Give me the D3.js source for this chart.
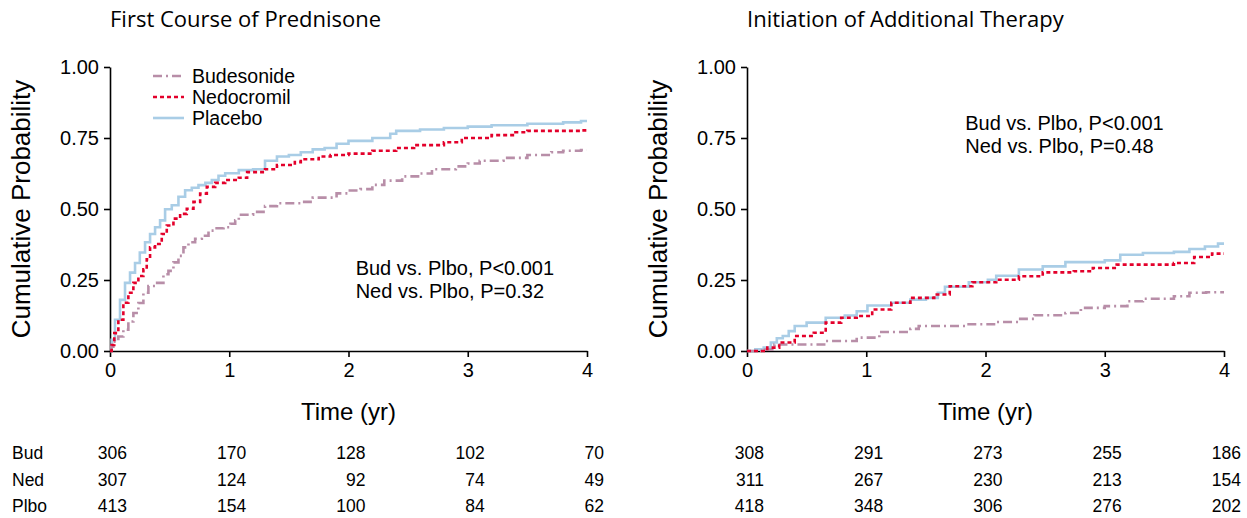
<!DOCTYPE html>
<html lang="en">
<head>
<meta charset="utf-8">
<title>Cumulative probability</title>
<style>
  body { margin: 0; background: #fff; }
  svg { display: block; font-family: "Liberation Sans", Arial, sans-serif; }
  .title { font-family: "Open Sans", "Noto Sans", sans-serif; font-size: 22px; }
  .axis path, .axis line { stroke: #000; stroke-width: 1.6px; }
  .axis text { font-size: 20px; fill: #000; }
</style>
</head>
<body>
<svg></svg>
<script src="https://d3js.org/d3.v7.min.js"></script>
<script>

// time (yr) / cumulative probability
const predBud = [[0,0],[0.01,0.015],[0.028,0.033],[0.07,0.051],[0.112,0.075],[0.154,0.104],[0.196,0.134],[0.238,0.169],[0.28,0.205],[0.322,0.229],[0.378,0.24],[0.448,0.27],[0.49,0.282],[0.532,0.312],[0.574,0.335],[0.616,0.365],[0.658,0.383],[0.714,0.395],[0.77,0.406],[0.826,0.424],[0.882,0.432],[0.952,0.436],[1.01,0.448],[1.05,0.46],[1.08,0.48],[1.2,0.49],[1.3,0.51],[1.4,0.52],[1.6,0.525],[1.7,0.54],[1.9,0.555],[2.0,0.565],[2.1,0.57],[2.2,0.585],[2.3,0.60],[2.45,0.615],[2.6,0.625],[2.7,0.64],[2.9,0.65],[3.0,0.66],[3.1,0.67],[3.3,0.68],[3.5,0.69],[3.7,0.70],[3.8,0.705],[3.95,0.708],[4,0.708]];
const predNed = [[0,0],[0.014,0.021],[0.036,0.063],[0.07,0.11],[0.112,0.17],[0.154,0.205],[0.196,0.24],[0.238,0.264],[0.28,0.288],[0.308,0.323],[0.336,0.365],[0.378,0.377],[0.434,0.412],[0.476,0.442],[0.532,0.466],[0.588,0.483],[0.644,0.501],[0.7,0.525],[0.756,0.554],[0.812,0.578],[0.882,0.592],[0.966,0.602],[1.08,0.61],[1.15,0.63],[1.3,0.64],[1.4,0.655],[1.55,0.665],[1.6,0.675],[1.75,0.685],[1.85,0.69],[2.0,0.695],[2.2,0.705],[2.4,0.715],[2.55,0.725],[2.8,0.735],[2.95,0.75],[3.2,0.76],[3.4,0.77],[3.5,0.775],[3.95,0.777],[4,0.777]];
const predPlbo = [[0,0],[0.014,0.039],[0.042,0.11],[0.084,0.18],[0.126,0.24],[0.168,0.276],[0.21,0.31],[0.25,0.347],[0.294,0.383],[0.336,0.412],[0.378,0.436],[0.42,0.46],[0.462,0.499],[0.518,0.513],[0.574,0.543],[0.63,0.566],[0.686,0.575],[0.742,0.584],[0.8,0.592],[0.854,0.602],[0.91,0.617],[0.966,0.626],[1.08,0.637],[1.2,0.64],[1.3,0.67],[1.4,0.685],[1.5,0.69],[1.6,0.70],[1.7,0.71],[1.8,0.715],[1.9,0.73],[2.0,0.74],[2.2,0.75],[2.35,0.765],[2.4,0.775],[2.6,0.78],[2.8,0.785],[3.0,0.79],[3.2,0.795],[3.5,0.80],[3.8,0.805],[3.95,0.81],[4,0.81]];

const therBud = [[0,0],[0.15,0.005],[0.23,0.023],[0.46,0.023],[0.66,0.035],[0.92,0.047],[1.11,0.067],[1.37,0.078],[1.44,0.088],[1.83,0.094],[2.09,0.102],[2.28,0.113],[2.41,0.126],[2.67,0.134],[2.8,0.152],[3.0,0.158],[3.19,0.175],[3.32,0.184],[3.58,0.193],[3.71,0.205],[3.85,0.207],[4,0.207]];
const therNed = [[0,0],[0.1,0],[0.17,0.012],[0.27,0.03],[0.4,0.053],[0.56,0.064],[0.66,0.10],[0.79,0.117],[0.92,0.123],[1.05,0.146],[1.21,0.17],[1.37,0.187],[1.57,0.199],[1.7,0.228],[1.89,0.242],[2.09,0.251],[2.28,0.263],[2.48,0.277],[2.74,0.281],[2.9,0.292],[3.1,0.304],[3.58,0.31],[3.75,0.331],[3.9,0.343],[4,0.343]];
const therPlbo = [[0,0],[0.07,0.006],[0.14,0.012],[0.2,0.03],[0.25,0.045],[0.3,0.053],[0.35,0.07],[0.4,0.088],[0.5,0.10],[0.66,0.117],[0.82,0.125],[0.92,0.14],[1.01,0.16],[1.21,0.17],[1.37,0.181],[1.5,0.187],[1.6,0.205],[1.66,0.226],[1.86,0.242],[2.02,0.251],[2.09,0.265],[2.28,0.287],[2.48,0.298],[2.67,0.313],[3.0,0.319],[3.13,0.339],[3.32,0.345],[3.58,0.349],[3.71,0.359],[3.84,0.368],[3.95,0.378],[4,0.378]];

// numbers at risk at years 0..4
const groups = ["Bud", "Ned", "Plbo"];
const predRisk = [[306,170,128,102,70],[307,124,92,74,49],[413,154,100,84,62]];
const therRisk = [[308,291,273,255,186],[311,267,230,213,154],[418,348,306,276,202]];

const seriesNames = ["Budesonide", "Nedocromil", "Placebo"];
const xTicks = [0, 1, 2, 3, 4];
const yTicks = [0, 0.25, 0.5, 0.75, 1];

const styles = [
  {color: "#b88ea8", dash: "9,4,2,4"},
  {color: "#e3002b", dash: "4,3"},
  {color: "#a9cde6", dash: null}
];

let w = 1247, h = 518;
let svg = d3.select("svg").attr("width", w).attr("height", h);

let panels = [
  {left: 110, right: 587, title: "First Course of Prednisone", curves: [predBud, predNed, predPlbo], risk: predRisk,
   note: ["Bud vs. Plbo, P<0.001", "Ned vs. Plbo, P=0.32"], noteX: 2.06, noteY: 0.268, legend: true, rowLabels: true},
  {left: 747, right: 1224, title: "Initiation of Additional Therapy", curves: [therBud, therNed, therPlbo], risk: therRisk,
   note: ["Bud vs. Plbo, P<0.001", "Ned vs. Plbo, P=0.48"], noteX: 1.83, noteY: 0.778, legend: false, rowLabels: false}
];

let plotTop = 67, plotBottom = 351;

panels.forEach(p => {
  let x = d3.scaleLinear().domain([0, 4]).range([p.left, p.right]);
  let y = d3.scaleLinear().domain([0, 1]).range([plotBottom, plotTop]);
  let g = svg.append("g");

  g.append("text").attr("class", "title")
    .attr("x", p.left).attr("y", 27)
    .text(p.title);

  g.append("g").attr("class", "axis")
    .attr("transform", `translate(0,${plotBottom})`)
    .call(d3.axisBottom(x).tickValues(xTicks).tickFormat(d3.format("d")).tickSize(6).tickPadding(6).tickSizeOuter(0));

  g.append("g").attr("class", "axis")
    .attr("transform", `translate(${p.left},0)`)
    .call(d3.axisLeft(y).tickValues(yTicks).tickFormat(d3.format(".2f")).tickSize(6).tickPadding(5).tickSizeOuter(0));

  g.append("text")
    .attr("transform", `translate(${p.left - 80},${(plotTop + plotBottom) / 2}) rotate(-90)`)
    .attr("text-anchor", "middle")
    .style("font-size", "26px")
    .text("Cumulative Probability");

  g.append("text")
    .attr("x", (p.left + p.right) / 2).attr("y", 420)
    .attr("text-anchor", "middle")
    .style("font-size", "24px")
    .text("Time (yr)");

  let line = d3.line().x(d => x(d[0])).y(d => y(d[1])).curve(d3.curveStepAfter);

  // placebo drawn first so the dashed lines sit on top
  [2, 0, 1].forEach(i => {
    g.append("path")
      .attr("d", line(p.curves[i]))
      .attr("fill", "none")
      .attr("stroke", styles[i].color)
      .attr("stroke-width", 2.6)
      .attr("stroke-dasharray", styles[i].dash);
  });

  p.note.forEach((t, i) => {
    g.append("text")
      .attr("x", x(p.noteX)).attr("y", y(p.noteY) + i * 23)
      .style("font-size", "20px")
      .text(t);
  });

  if (p.legend) {
    seriesNames.forEach((name, i) => {
      let ly = 76 + i * 21;
      g.append("line")
        .attr("x1", 153).attr("x2", 184).attr("y1", ly).attr("y2", ly)
        .attr("stroke", styles[i].color).attr("stroke-width", 2.6)
        .attr("stroke-dasharray", styles[i].dash);
      g.append("text")
        .attr("x", 192).attr("y", ly + 7)
        .style("font-size", "19.5px")
        .text(name);
    });
  }

  // numbers at risk
  p.risk.forEach((row, r) => {
    let ry = 459 + r * 26.5;
    if (p.rowLabels) {
      g.append("text").attr("x", 12).attr("y", ry)
        .style("font-size", "17.5px").text(groups[r]);
    }
    row.forEach((v, k) => {
      g.append("text")
        .attr("x", x(xTicks[k]) + 17).attr("y", ry)
        .attr("text-anchor", "end")
        .style("font-size", "17.5px")
        .text(v);
    });
  });
});

</script>
</body>
</html>
